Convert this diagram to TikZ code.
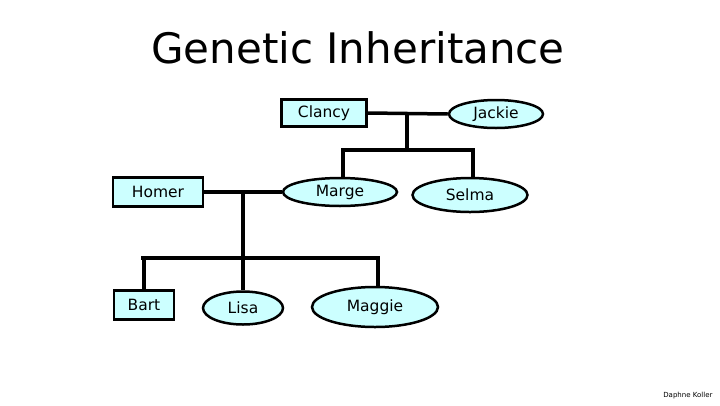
\documentclass[tikz,border=0pt]{standalone}
\usepackage{fontspec}
\setmainfont{DejaVu Sans}
\usetikzlibrary{shapes.geometric}
\definecolor{cy}{HTML}{CCFFFF}
\begin{document}
\begin{tikzpicture}[x=1pt,y=-1pt,
  base/.style={draw,fill=cy,line width=2.5pt,inner sep=0pt,font=\fontsize{15.5}{18}\selectfont},
  box/.style={base,rectangle},
  oval/.style={base,ellipse},
  link/.style={line width=3.5pt}]
\useasboundingbox[fill=white] (0,0) rectangle (720,405);
\node at (358,48) {\fontsize{42}{46}\selectfont Genetic Inheritance};
\node[anchor=south east,font=\fontsize{7}{8}\selectfont] at (716,402) {Daphne Koller};
\node[box,minimum width=85pt,minimum height=27pt] (clancy) at (324,113) {Clancy};
\node[oval,minimum width=94pt,minimum height=28pt] (jackie) at (496,114) {Jackie};
\node[oval,minimum width=114pt,minimum height=28pt] (marge) at (340,192) {Marge};
\node[oval,minimum width=115pt,minimum height=34pt] (selma) at (470,195) {Selma};
\node[box,minimum width=90pt,minimum height=29pt] (homer) at (158,192) {Homer};
\node[box,minimum width=60pt,minimum height=29pt] (bart) at (144,305) {Bart};
\node[oval,minimum width=80pt,minimum height=33pt] (lisa) at (243,308) {Lisa};
\node[oval,minimum width=126pt,minimum height=40pt] (maggie) at (375,307) {Maggie};
\coordinate (cj) at (407,114);
\coordinate (cjd) at (407,150);
\coordinate (hm) at (243,193);
\coordinate (hmd) at (243,258);
\draw[link] (clancy.east) -- (jackie.west);
\draw[link] (cj) -- (cjd);
\draw[link] (marge.north -| 343,0) |- (cjd) -| (selma.north -| 473,0);
\draw[link] (homer.east) -- (homer.east -| marge.west);
\draw[link] (hm) -- (hmd);
\draw[link] (bart.north) |- (141,258) -- (378,258) -- (maggie.north -| 378,0);
\draw[link] (hmd) -- (lisa.north);
\end{tikzpicture}
\end{document}
